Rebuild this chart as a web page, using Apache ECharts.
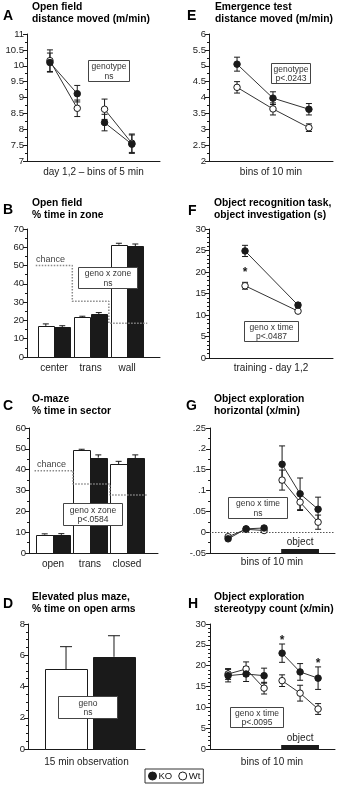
<!DOCTYPE html>
<html>
<head>
<meta charset="utf-8">
<script src="https://cdn.jsdelivr.net/npm/echarts@6/dist/echarts.min.js"></script>
<style>
html, body { margin: 0; padding: 0; background: #fff; }
#main { width: 340px; height: 787px; }
</style>
</head>
<body>
<div id="main"></div>
<script>
var FONT = '"Liberation Sans", Arial, Helvetica, sans-serif';
var INK = '#1a1a1a';

// A - open field, distance moved (m/min)
var aX = [1, 2, 3, 4];
var aKO = [10.1, 9.12, 8.21, 7.53];
var aKOErr = [0.3, 0.26, 0.26, 0.29];
var aWt = [10.16, 8.66, 8.63, 7.56];
var aWtErr = [0.34, 0.26, 0.32, 0.29];
var aSegs = [[0, 2], [2, 4]];
var aYTicks = [7, 7.5, 8, 8.5, 9, 9.5, 10, 10.5, 11];

// E - emergence test, distance moved (m/min)
var eX = [1, 2, 3];
var eKO = [5.05, 3.98, 3.63];
var eKOErr = [0.22, 0.2, 0.18];
var eWt = [4.32, 3.64, 3.05];
var eWtErr = [0.18, 0.19, 0.12];
var eSegs = [[0, 3]];
var eYTicks = [2, 2.5, 3, 3.5, 4, 4.5, 5, 5.5, 6];

// B - open field, % time in zone
var bCats = ['center', 'trans', 'wall'];
var bWt = [17.0, 21.8, 61.4];
var bWtErr = [1.1, 0.5, 0.8];
var bKO = [16.3, 23.4, 60.5];
var bKOErr = [0.8, 0.9, 1.3];
var bChance = [50, 30.5, 18.5];
var bChanceEdges = [0.5, 1.5, 2.5, 3.55];
var bYTicks = [0, 10, 20, 30, 40, 50, 60, 70];

// F - object recognition, investigation (s)
var fX = [1, 2];
var fKO = [24.9, 12.3];
var fKOErr = [1.3, 0.5];
var fWt = [16.8, 10.9];
var fWtErr = [0.8, 0.3];
var fSegs = [[0, 2]];
var fStars = [[1, 20.5]];
var fYTicks = [0, 5, 10, 15, 20, 25, 30];

// C - O-maze, % time in sector
var cCats = ['open', 'trans', 'closed'];
var cWt = [8.8, 49.3, 42.6];
var cWtErr = [0.4, 0.5, 1.4];
var cKO = [8.7, 45.8, 45.4];
var cKOErr = [0.6, 1.3, 1.7];
var cChance = [39.5, 33.1, 27.8];
var cChanceEdges = [0.5, 1.54, 2.54, 3.57];
var cYTicks = [0, 10, 20, 30, 40, 50, 60];

// G - object exploration, horizontal (x/min)
var gX = [1, 2, 3, 4, 5, 6];
var gKO = [-0.016, 0.008, 0.01, 0.163, 0.092, 0.055];
var gKOErr = [0.004, 0.003, 0.004, 0.044, 0.038, 0.029];
var gWt = [-0.011, 0.007, 0.004, 0.125, 0.072, 0.024];
var gWtErr = [0.004, 0.003, 0.003, 0.024, 0.02, 0.017];
var gSegs = [[0, 3], [3, 6]];
var gObject = [3.95, 6.05];
var gYTicks = [-0.05, 0, 0.05, 0.1, 0.15, 0.2, 0.25];

// D - elevated plus maze, % time on open arms
var dCenter = [0.53];
var dWt = [5.11];
var dWtErr = [1.44];
var dKO = [5.9];
var dKOErr = [1.35];
var dYTicks = [0, 2, 4, 6, 8];

// H - object exploration, stereotypy count (x/min)
var hX = [1, 2, 3, 4, 5, 6];
var hKO = [17.6, 18.0, 17.6, 23.0, 18.5, 17.0];
var hKOErr = [1.5, 1.8, 1.8, 2.2, 2.0, 2.7];
var hWt = [18.0, 19.2, 14.6, 16.4, 13.4, 9.6];
var hWtErr = [1.3, 1.7, 1.4, 1.4, 1.9, 1.3];
var hSegs = [[0, 3], [3, 6]];
var hStars = [[4, 26.8], [6, 21.2]];
var hObject = [3.95, 6.05];
var hYTicks = [0, 5, 10, 15, 20, 25, 30];

var chart = echarts.init(document.getElementById('main'), null, { renderer: 'canvas' });

function yAx(g, ticks, minorSplit, fmt) {
  return {
    type: 'value', gridIndex: g,
    min: ticks[0], max: ticks[ticks.length - 1], interval: ticks[1] - ticks[0],
    axisLine: { show: true, lineStyle: { color: INK, width: 1 } },
    axisTick: { show: true, length: 4, lineStyle: { color: INK } },
    minorTick: { show: true, splitNumber: minorSplit, length: 2, lineStyle: { color: INK } },
    splitLine: { show: false },
    axisLabel: { fontSize: 9.5, color: '#222', margin: 3, fontFamily: FONT, formatter: fmt }
  };
}

function xAx(g, lo, hi, name, gap, cats) {
  var ax = {
    type: 'value', gridIndex: g, min: lo, max: hi,
    axisLine: { show: true, onZero: false, lineStyle: { color: INK, width: 1 } },
    axisTick: { show: false },
    splitLine: { show: false },
    axisLabel: { show: false }
  };
  if (name) {
    ax.name = name;
    ax.nameLocation = 'middle';
    ax.nameGap = gap;
    ax.nameTextStyle = { fontSize: 10, color: '#222', fontFamily: FONT };
  }
  if (cats) {
    ax.axisLabel = {
      show: true, customValues: [1, 2, 3], margin: 6,
      fontSize: 10, color: '#222', fontFamily: FONT,
      formatter: function (v) { return cats[Math.round(v) - 1]; }
    };
  }
  return ax;
}

function errBars(g, xs, ys, es, mode, cap) {
  return {
    type: 'custom', name: 'err', xAxisIndex: g, yAxisIndex: g, z: 5, silent: true,
    data: xs.map(function (x, i) { return [x, ys[i], es[i]]; }),
    renderItem: function (p, api) {
      var x = api.value(0), y = api.value(1), e = api.value(2);
      var top = api.coord([x, y + e]);
      var bot = mode === 'up' ? api.coord([x, y]) : api.coord([x, y - e]);
      var st = { stroke: INK, lineWidth: 1 };
      var kids = [
        { type: 'line', shape: { x1: top[0], y1: top[1], x2: bot[0], y2: bot[1] }, style: st },
        { type: 'line', shape: { x1: top[0] - cap, y1: top[1], x2: top[0] + cap, y2: top[1] }, style: st }
      ];
      if (mode !== 'up') {
        kids.push({ type: 'line', shape: { x1: bot[0] - cap, y1: bot[1], x2: bot[0] + cap, y2: bot[1] }, style: st });
      }
      return { type: 'group', children: kids };
    }
  };
}

function lineSeg(g, name, xs, ys, seg, filled) {
  var d = [];
  for (var i = seg[0]; i < seg[1]; i++) d.push([xs[i], ys[i]]);
  return {
    type: 'line', name: name, xAxisIndex: g, yAxisIndex: g, data: d,
    symbol: 'circle', symbolSize: 6.5, showSymbol: true, silent: true,
    z: filled ? 8 : 7,
    lineStyle: { color: '#333', width: 1 },
    itemStyle: filled ? { color: INK, borderColor: INK, borderWidth: 1 }
                      : { color: '#fff', borderColor: INK, borderWidth: 1 }
  };
}

function linePanel(g, xs, ko, koE, wt, wtE, segs) {
  var out = [];
  segs.forEach(function (s) {
    out.push(lineSeg(g, 'KO', xs, ko, s, true));
    out.push(lineSeg(g, 'Wt', xs, wt, s, false));
  });
  out.push(errBars(g, xs, ko, koE, 'both', 3));
  out.push(errBars(g, xs, wt, wtE, 'both', 3));
  return out;
}

function bars(g, centers, vals, off, w, fill) {
  return {
    type: 'custom', name: 'bar', xAxisIndex: g, yAxisIndex: g, z: 2, silent: true,
    data: centers.map(function (c, i) { return [c, vals[i]]; }),
    renderItem: function (p, api) {
      var c = api.value(0), v = api.value(1);
      var p0 = api.coord([c + off, v]);
      var p1 = api.coord([c + off + w, 0]);
      return {
        type: 'rect',
        shape: { x: Math.round(p0[0]) + 0.5, y: Math.round(p0[1]) + 0.5, width: Math.round(p1[0] - p0[0]), height: Math.round(p1[1] - p0[1]) },
        style: { fill: fill, stroke: INK, lineWidth: 1 }
      };
    }
  };
}

function barPanel(g, centers, wt, wtE, ko, koE, w, gap, cap) {
  var wOff = -gap / 2 - w, kOff = gap / 2;
  return [
    bars(g, centers, wt, wOff, w, '#fff'),
    bars(g, centers, ko, kOff, w, INK),
    errBars(g, centers.map(function (c) { return c + wOff + w / 2; }), wt, wtE, 'up', cap),
    errBars(g, centers.map(function (c) { return c + kOff + w / 2; }), ko, koE, 'up', cap)
  ];
}

function chanceLine(g, edges, vals) {
  var d = [];
  for (var i = 0; i < vals.length; i++) {
    d.push([edges[i], vals[i]]);
    d.push([edges[i + 1], vals[i]]);
  }
  return {
    type: 'line', name: 'chance', xAxisIndex: g, yAxisIndex: g, data: d, z: 4,
    symbol: 'none', silent: true,
    lineStyle: { color: '#8a8a8a', width: 1.5, type: [1.5, 1.5] }
  };
}

function stars(g, pts) {
  return {
    type: 'custom', name: 'star', xAxisIndex: g, yAxisIndex: g, z: 9, silent: true,
    data: pts,
    renderItem: function (p, api) {
      var q = api.coord([api.value(0), api.value(1)]);
      return {
        type: 'text', x: q[0], y: q[1] + 3,
        style: { text: '*', fill: INK, font: 'bold 12px ' + FONT, align: 'center', verticalAlign: 'middle' }
      };
    }
  };
}

function objectBar(g, span, ymin) {
  return {
    type: 'custom', name: 'object', xAxisIndex: g, yAxisIndex: g, z: 3, silent: true,
    data: [[span[0], span[1], ymin]],
    renderItem: function (p, api) {
      var a = api.coord([api.value(0), api.value(2)]);
      var b = api.coord([api.value(1), api.value(2)]);
      return {
        type: 'group', children: [
          { type: 'rect', shape: { x: a[0], y: a[1] - 4, width: b[0] - a[0], height: 4 }, style: { fill: INK } },
          { type: 'text', x: (a[0] + b[0]) / 2, y: a[1] - 11,
            style: { text: 'object', fill: '#222', font: '10px ' + FONT, align: 'center', verticalAlign: 'middle' } }
        ]
      };
    }
  };
}

var series = [];
series = series.concat(linePanel(0, aX, aKO, aKOErr, aWt, aWtErr, aSegs));
series = series.concat(linePanel(1, eX, eKO, eKOErr, eWt, eWtErr, eSegs));
series = series.concat(barPanel(2, [1, 2, 3], bWt, bWtErr, bKO, bKOErr, 0.45, 0, 3));
series.push(chanceLine(2, bChanceEdges, bChance));
series = series.concat(linePanel(3, fX, fKO, fKOErr, fWt, fWtErr, fSegs));
series.push(stars(3, fStars));
series = series.concat(barPanel(4, [1, 2, 3], cWt, cWtErr, cKO, cKOErr, 0.45, 0, 3));
series.push(chanceLine(4, cChanceEdges, cChance));
series = series.concat(linePanel(5, gX, gKO, gKOErr, gWt, gWtErr, gSegs));
series.push(objectBar(5, gObject, gYTicks[0]));
series.push({
  type: 'line', name: 'zero', xAxisIndex: 5, yAxisIndex: 5, data: [], silent: true,
  markLine: {
    silent: true, symbol: 'none', label: { show: false }, animation: false,
    lineStyle: { color: '#555', width: 1, type: [1.5, 1.5] },
    data: [{ yAxis: 0 }]
  }
});
series = series.concat(barPanel(6, dCenter, dWt, dWtErr, dKO, dKOErr, 0.36, 0.05, 6));
series = series.concat(linePanel(7, hX, hKO, hKOErr, hWt, hWtErr, hSegs));
series.push(stars(7, hStars));
series.push(objectBar(7, hObject, hYTicks[0]));

function gFmt(v) { return String(+v.toFixed(2)).replace(/^(-?)0\./, '$1.'); }

function titleBlock(lx, ly, letter, tx, ty, l1, l2) {
  return [
    { type: 'text', x: lx, y: ly, style: { text: letter, fill: '#000', font: 'bold 14px ' + FONT, verticalAlign: 'middle' } },
    { type: 'text', x: tx, y: ty, style: { text: l1, fill: '#000', font: 'bold 10.3px ' + FONT, verticalAlign: 'middle' } },
    { type: 'text', x: tx, y: ty + 12, style: { text: l2, fill: '#000', font: 'bold 10.3px ' + FONT, verticalAlign: 'middle' } }
  ];
}

function box(x, y, w, h, text) {
  return {
    type: 'group', z: 100, children: [
      { type: 'rect', z: 100, shape: { x: x + 0.5, y: y + 0.5, width: w, height: h }, style: { fill: '#fff', stroke: '#444', lineWidth: 1 } },
      { type: 'text', z: 101, x: x + w / 2 + 0.5, y: y + h / 2 + 1,
        style: { text: text, fill: '#333', font: '8.5px ' + FONT, align: 'center', verticalAlign: 'middle', lineHeight: 9.5 } }
    ]
  };
}

function note(x, y, text) {
  return { type: 'text', z: 100, x: x, y: y, style: { text: text, fill: '#444', font: '9px ' + FONT, verticalAlign: 'middle' } };
}

var graphics = []
  .concat(titleBlock(3, 16, 'A', 32, 7, 'Open field', 'distance moved (m/min)'))
  .concat(titleBlock(187, 16, 'E', 215, 7, 'Emergence test', 'distance moved (m/min)'))
  .concat(titleBlock(3, 210, 'B', 32, 203, 'Open field', '% time in zone'))
  .concat(titleBlock(188, 211, 'F', 214, 203, 'Object recognition task,', 'object investigation (s)'))
  .concat(titleBlock(3, 406, 'C', 32, 399, 'O-maze', '% time in sector'))
  .concat(titleBlock(186, 406, 'G', 214, 399, 'Object exploration', 'horizontal (x/min)'))
  .concat(titleBlock(3, 604, 'D', 32, 597, 'Elevated plus maze,', '% time on open arms'))
  .concat(titleBlock(188, 604, 'H', 214, 597, 'Object exploration', 'stereotypy count (x/min)'))
  .concat([
    box(88, 60, 41, 21, 'genotype\nns'),
    box(271, 63, 39, 20, 'genotype\np<.0243'),
    box(78, 267, 59, 21, 'geno x zone\nns'),
    box(244, 321, 54, 20, 'geno x time\np<.0487'),
    box(63, 503, 59, 22, 'geno x zone\np<.0584'),
    box(228, 497, 59, 21, 'geno x time\nns'),
    box(58, 696, 59, 22, 'geno\nns'),
    box(230, 707, 53, 20, 'geno x time\np<.0095'),
    note(36, 260, 'chance'),
    note(37, 465, 'chance')
  ]);

var option = {
  animation: false,
  backgroundColor: '#fff',
  textStyle: { fontFamily: FONT },
  grid: [
    { left: 27, top: 34, width: 133, height: 127 },
    { left: 209, top: 34, width: 124, height: 127 },
    { left: 27, top: 229, width: 133, height: 128 },
    { left: 209, top: 229, width: 124, height: 129 },
    { left: 29, top: 428, width: 129, height: 125 },
    { left: 209, top: 428, width: 126, height: 125 },
    { left: 28, top: 624, width: 117, height: 125 },
    { left: 209, top: 624, width: 126, height: 125 }
  ],
  xAxis: [
    xAx(0, 0.16, 5.03, 'day 1,2 \u2013 bins of 5 min', 6),
    xAx(1, 0.22, 3.67, 'bins of 10 min', 6),
    xAx(2, 0.26, 3.9, null, 0, bCats),
    xAx(3, 0.32, 2.66, 'training - day 1,2', 5),
    xAx(4, 0.35, 3.84, null, 0, cCats),
    xAx(5, -0.06, 6.94, 'bins of 10 min', 4),
    xAx(6, 0, 1, '15 min observation', 8),
    xAx(7, -0.06, 6.94, 'bins of 10 min', 8)
  ],
  yAxis: [
    yAx(0, aYTicks, 2),
    yAx(1, eYTicks, 2),
    yAx(2, bYTicks, 2),
    yAx(3, fYTicks, 5),
    yAx(4, cYTicks, 2),
    yAx(5, gYTicks, 2, gFmt),
    yAx(6, dYTicks, 4),
    yAx(7, hYTicks, 5)
  ],
  legend: {
    data: ['KO', 'Wt'], left: 145, top: 769, orient: 'horizontal',
    icon: 'circle', itemWidth: 8, itemHeight: 8, itemGap: 6,
    itemStyle: { borderWidth: 1 },
    padding: [2, 3, 2, 3], backgroundColor: '#fff',
    borderColor: '#333', borderWidth: 1, borderRadius: 0,
    selectedMode: false,
    textStyle: { fontSize: 9.5, color: '#111', fontFamily: FONT, padding: [0, 0, 0, -3] }
  },
  graphic: graphics,
  series: series
};

chart.setOption(option);
</script>
</body>
</html>
